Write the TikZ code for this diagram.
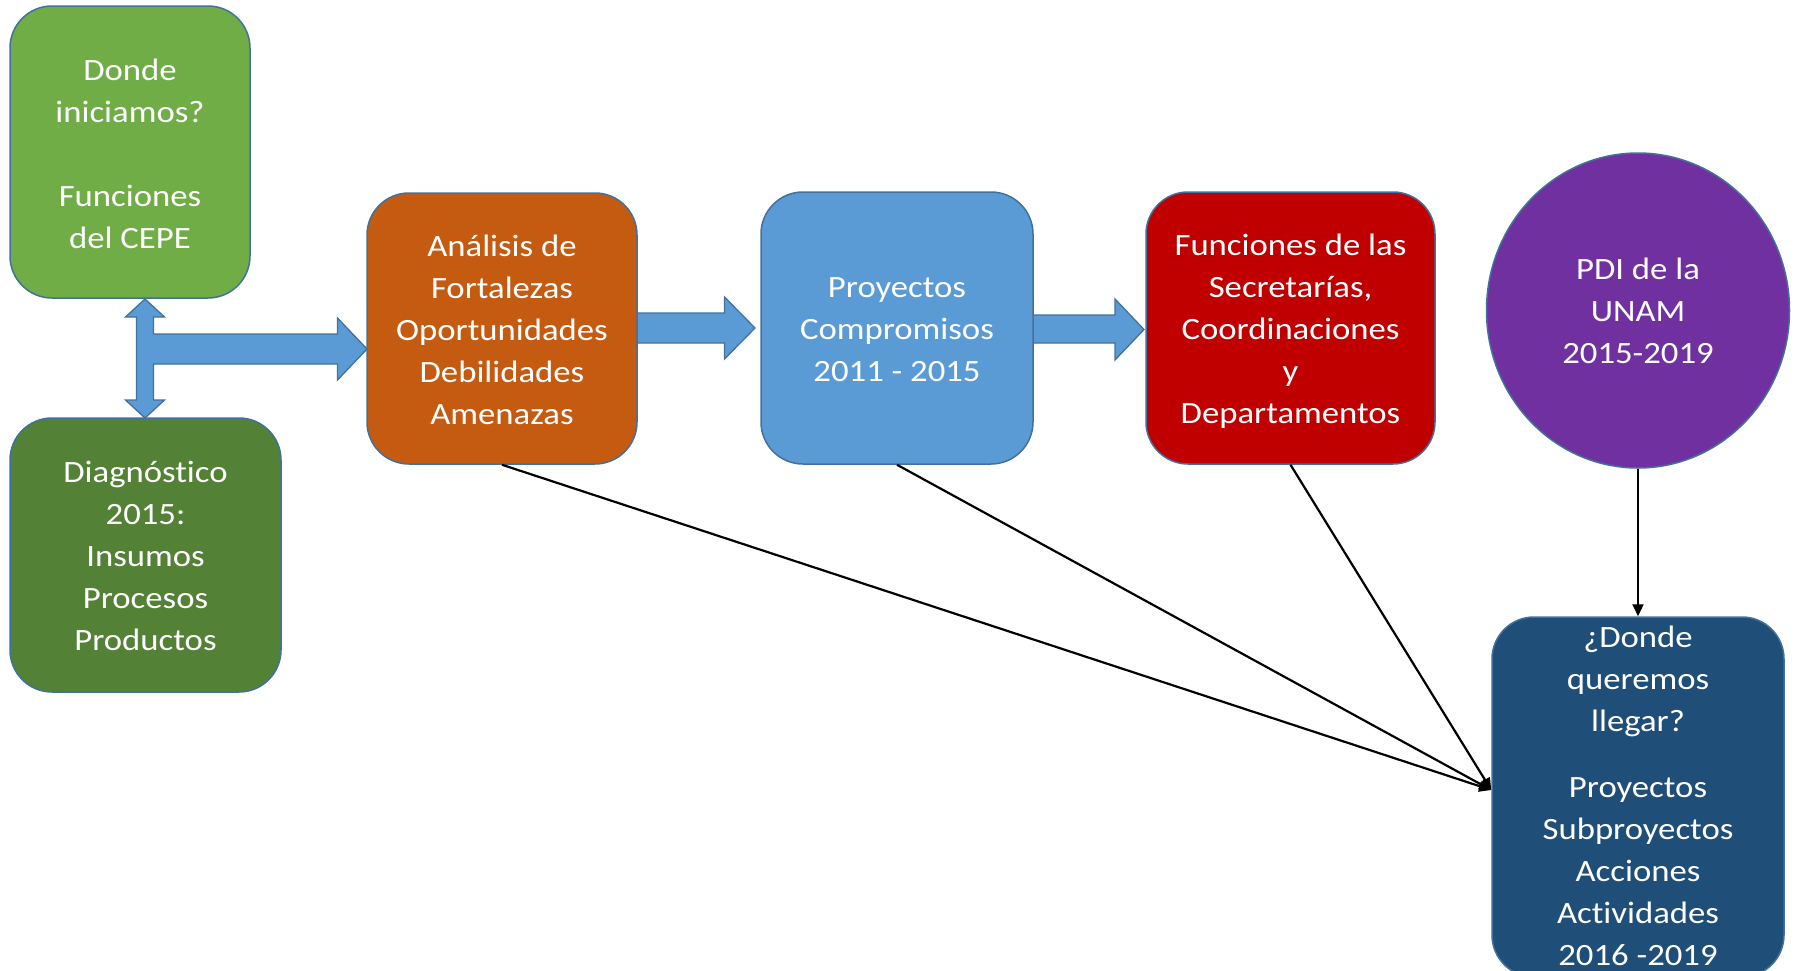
\documentclass[tikz,border=0pt]{standalone}
\usepackage{fontspec}
\setmainfont{Carlito}[FakeStretch=1.12,Ligatures={NoCommon}]
\usetikzlibrary{shapes.geometric,arrows.meta}
\definecolor{greenA}{HTML}{70AD47}
\definecolor{greenB}{HTML}{538135}
\definecolor{orangeA}{HTML}{C55A11}
\definecolor{blueA}{HTML}{5B9BD5}
\definecolor{redA}{HTML}{C00000}
\definecolor{purpleA}{HTML}{7030A0}
\definecolor{navyA}{HTML}{1F4E79}
\definecolor{outl}{HTML}{41719C}
\begin{document}
\begin{tikzpicture}[x=1pt,y=-1pt,
  box/.style={rectangle, rounded corners=42pt, draw=outl, line width=1.5pt, inner sep=0pt},
  oval/.style={ellipse, draw=outl, line width=1.5pt, inner sep=0pt},
  txt/.style={text=white, align=center, inner sep=0pt, font=\fontsize{31}{42}\selectfont},
  conn/.style={draw=black, line width=2.2pt, -{Triangle[length=12pt,width=11pt]}},
  blk/.style={fill=blueA, draw=outl, line width=1.3pt, line join=miter}]
\useasboundingbox (0,0) rectangle (1800,970);

% block arrows
\path[blk] (145,299) -- (164.5,317) -- (153.5,317) -- (153.5,334) -- (337.5,334) -- (337.5,318)
  -- (367,349) -- (337.5,380) -- (337.5,364) -- (153.5,364) -- (153.5,400) -- (164.5,400)
  -- (145,418) -- (125.5,400) -- (136.5,400) -- (136.5,317) -- (125.5,317) -- cycle;
\path[blk] (637,313) -- (724.5,313) -- (724.5,297) -- (755,328) -- (724.5,359) -- (724.5,343) -- (637,343) -- cycle;
\path[blk] (1033,315) -- (1115,315) -- (1115,299) -- (1144,329.5) -- (1115,360) -- (1115,343) -- (1033,343) -- cycle;

% boxes
\node[box, fill=greenA, minimum width=240pt, minimum height=292pt] (start) at (130,152) {};
\node[txt] (startT) at ([yshift=-1.4pt]start.center)
  {Donde\\iniciamos?\\[42pt]Funciones\\del CEPE};
\node[box, fill=greenB, minimum width=271pt, minimum height=274pt] (diag) at (145.5,555) {};
\node[txt] (diagT) at ([yshift=-0.5pt]diag.center)
  {Diagnóstico\\2015:\\Insumos\\Procesos\\Productos};
\node[box, fill=orangeA, minimum width=270pt, minimum height=271pt] (ana) at (502,328.5) {};
\node[txt] (anaT) at ([yshift=-1.7pt]ana.center)
  {Análisis de\\Fortalezas\\Oportunidades\\Debilidades\\Amenazas};
\node[box, fill=blueA, minimum width=272pt, minimum height=272pt] (proj) at (897,328) {};
\node[txt] (projT) at ([yshift=-1.2pt]proj.center)
  {Proyectos\\Compromisos\\2011 - 2015};
\node[box, fill=redA, minimum width=289pt, minimum height=272pt] (func) at (1290.5,328) {};
\node[txt] (funcT) at ([yshift=-3.5pt]func.center)
  {Funciones de las\\Secretarías,\\Coordinaciones\\y\\Departamentos};
\node[oval, fill=purpleA, minimum width=303pt, minimum height=315pt] (pdi) at (1638,310.5) {};
\node[txt] (pdiT) at ([yshift=-0.3pt]pdi.center)
  {PDI de la\\UNAM\\2015-2019};
\node[box, fill=navyA, minimum width=292pt, minimum height=360pt] (goal) at (1638,797) {};
\node[txt] (goalT) at ([yshift=1.2pt]goal.center)
  {¿Donde\\queremos\\llegar?\\[24pt]Proyectos\\Subproyectos\\Acciones\\Actividades\\2016 -2019};

% connectors
\draw[conn] (ana.south) -- ([yshift=7pt]goal.west);
\draw[conn] (proj.south) -- ([yshift=7pt]goal.west);
\draw[conn] (func.south) -- ([yshift=7pt]goal.west);
\draw[conn] (pdi.south) -- (goal.north);
\end{tikzpicture}
\end{document}
